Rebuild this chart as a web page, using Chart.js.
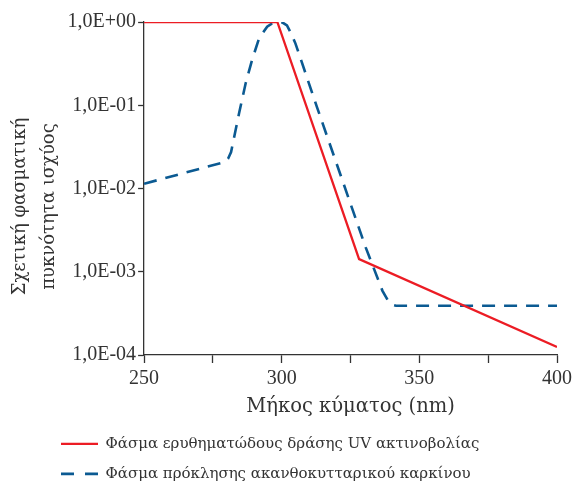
<!DOCTYPE html>
<html>
<head>
<meta charset="utf-8">
<script src="https://cdn.jsdelivr.net/npm/chart.js@4.4.1/dist/chart.umd.min.js"></script>
<style>
  html, body { margin: 0; padding: 0; background: #fff; }
  #wrap { width: 576px; height: 486px; }
</style>
</head>
<body>
<div id="wrap"><canvas id="myChart" width="576" height="486"></canvas></div>
<script>
// erythema action spectrum (red)
let redX = [250, 298.4, 328.1, 400]
let redY = [1, 1, 0.00142, 0.000125]
// squamous cell carcinoma action spectrum (blue, dashed)
let blueX = [250, 279, 280.5, 281.6, 284.5, 286.9, 289.2, 291.8, 294.7, 296.5, 298.5, 300.3, 301.9, 303.5, 305, 312.8, 330.5, 336.6, 338.6, 340.2, 341.5, 400]
let blueY = [0.0114, 0.0207, 0.0228, 0.0274, 0.080, 0.184, 0.348, 0.641, 0.877, 0.96, 1.0, 0.985, 0.91, 0.72, 0.55, 0.095, 0.00196, 0.00059, 0.00045, 0.000400, 0.00039, 0.00039]

let seriesNames = ['Φάσμα ερυθηματώδους δράσης UV ακτινοβολίας', 'Φάσμα πρόκλησης ακανθοκυτταρικού καρκίνου']
let yTicks = [0.0001, 0.001, 0.01, 0.1, 1]
let yTickLabels = ['1,0E-04', '1,0E-03', '1,0E-02', '1,0E-01', '1,0E+00']
let xTicksMajor = [250, 300, 350, 400]

let textColor = '#333'
let tickFont = "'Liberation Serif', serif"
let serif = "'DejaVu Serif', 'Liberation Serif', serif"

let toPoints = (xs, ys) => xs.map((v, i) => ({x: v, y: ys[i]}))

// move the legend to the left like in the print version
let shiftLegend = {
    id: 'shiftLegend',
    afterLayout(chart) {
        chart.legend.left = 46
    }
}

let c = new Chart(document.getElementById('myChart'), {
    type: 'line',
    data: {
        datasets: [{
            label: seriesNames[0],
            data: toPoints(redX, redY),
            borderColor: '#ec1c24',
            backgroundColor: '#ec1c24',
            borderWidth: 2.3,
            pointRadius: 0,
            tension: 0
        }, {
            label: seriesNames[1],
            data: toPoints(blueX, blueY),
            borderColor: '#0b5a92',
            backgroundColor: '#0b5a92',
            borderWidth: 2.6,
            borderDash: [13, 9],
            pointRadius: 0,
            tension: 0
        }]
    },
    options: {
        responsive: false,
        animation: false,
        layout: {
            padding: {left: 6, right: 6, top: 22, bottom: -5.4}
        },
        plugins: {
            tooltip: {enabled: false},
            legend: {
                position: 'bottom',
                align: 'start',
                labels: {
                    color: textColor,
                    font: {family: serif, size: 15},
                    usePointStyle: true,
                    pointStyle: 'line',
                    pointStyleWidth: 37,
                    padding: 15,
                    generateLabels(chart) {
                        let items = Chart.defaults.plugins.legend.labels.generateLabels(chart)
                        items.forEach((it, i) => {
                            it.lineWidth = i == 0 ? 2.3 : 2.6
                            it.lineDash = i == 0 ? [] : [13, 11]
                        })
                        return items
                    }
                }
            }
        },
        scales: {
            x: {
                type: 'linear',
                min: 250,
                max: 400,
                grid: {
                    drawOnChartArea: false,
                    tickLength: 8,
                    tickColor: textColor,
                    tickWidth: 1.3
                },
                border: {color: textColor, width: 1.3},
                ticks: {
                    stepSize: 25,
                    color: textColor,
                    font: {family: tickFont, size: 20},
                    padding: 4,
                    maxRotation: 0,
                    callback: v => xTicksMajor.includes(v) ? String(v) : ''
                },
                title: {
                    display: true,
                    text: 'Μήκος κύματος (nm)',
                    color: textColor,
                    font: {family: serif, size: 19.5},
                    padding: {top: 0, bottom: 3}
                }
            },
            y: {
                type: 'logarithmic',
                min: 0.0001,
                max: 1,
                afterBuildTicks: scale => {
                    scale.ticks = yTicks.map(v => ({value: v}))
                },
                grid: {
                    drawOnChartArea: false,
                    tickLength: 6,
                    tickColor: textColor,
                    tickWidth: 1.3
                },
                border: {color: textColor, width: 1.3},
                ticks: {
                    color: textColor,
                    font: {family: tickFont, size: 20},
                    padding: 2,
                    callback: v => yTickLabels[yTicks.indexOf(v)]
                },
                title: {
                    display: true,
                    text: ['Σχετική φασματική\u2003\u2003', 'πυκνότητα ισχύος\u2003\u2003'],
                    color: textColor,
                    font: {family: serif, size: 18, lineHeight: 1.6},
                    padding: {top: 0, bottom: 2}
                }
            }
        }
    },
    plugins: [shiftLegend]
})
</script>
</body>
</html>
